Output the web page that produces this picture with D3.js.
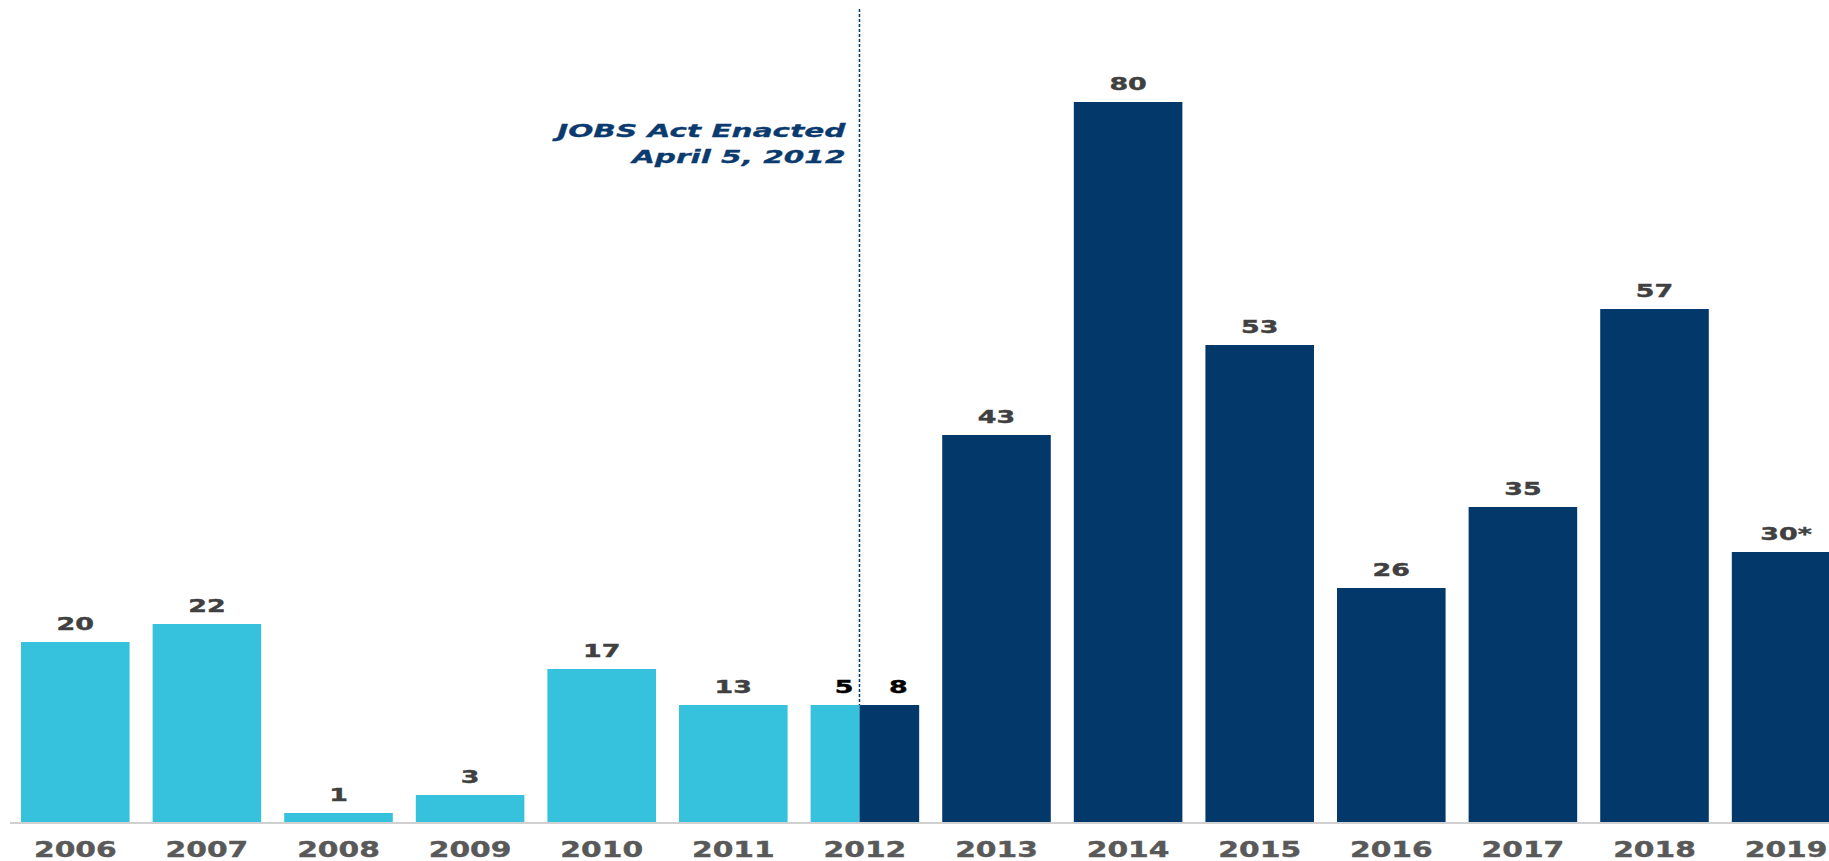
<!DOCTYPE html>
<html><head><meta charset="utf-8">
<script src="https://cdn.jsdelivr.net/npm/d3@7"></script>
<style>html,body{margin:0;padding:0;background:#fff;overflow:hidden}</style>
</head><body>
<svg id="c" width="1829" height="861"></svg>
<script>
const years = ["2006","2007","2008","2009","2010","2011","2012","2013","2014","2015","2016","2017","2018","2019"];
const preJobs = [20,22,1,3,17,13,5,null,null,null,null,null,null,null];
const postJobs = [null,null,null,null,null,null,8,43,80,53,26,35,57,30];
const valueLabels = ["20","22","1","3","17","13","5","8","43","80","53","26","35","57","30*"];
const annotation = ["JOBS Act Enacted","April 5, 2012"];
const splitYear = "2012";

const W = 1829, H = 861;
const svg = d3.select("#c");
const x = d3.scaleBand().domain(years).range([9.5, 9.5 + 14*131.6]).paddingInner(0.175).paddingOuter(0.0875);
const y = d3.scaleLinear().domain([0, 80]).range([822, 102]);
const light = "#36C1DC", dark = "#03386A";
const splitFrac = 0.45;
const SX = 1.45;

const rows = years.map((yr,i)=>({yr, pre: preJobs[i], post: postJobs[i]}));
rows.forEach(r=>{ r.total = (r.pre||0)+(r.post||0); });

// bars
rows.forEach((r,i)=>{
  const bx = x(r.yr), bw = x.bandwidth();
  if (r.pre!=null && r.post!=null) {
    const sx = bx + bw*splitFrac;
    svg.append("rect").attr("x",bx).attr("y",y(r.total)).attr("width",sx-bx).attr("height",y(0)-y(r.total)).attr("fill",light);
    svg.append("rect").attr("x",sx).attr("y",y(r.total)).attr("width",bx+bw-sx).attr("height",y(0)-y(r.total)).attr("fill",dark);
  } else {
    const v = r.pre!=null ? r.pre : r.post;
    svg.append("rect").attr("x",bx).attr("y",y(v)).attr("width",bw).attr("height",y(0)-y(v)).attr("fill", r.pre!=null?light:dark);
  }
});

// axis
const axis = svg.append("g").attr("transform",`translate(0,${y(0)})`).call(d3.axisBottom(x).tickSize(0).tickSizeOuter(0));
axis.select(".domain").attr("stroke","#D0D0D0").attr("stroke-width",2).attr("d",`M10,1H${W}`);
axis.selectAll(".tick text").each(function(d){
  const t = d3.select(this);
  const cx = x(d)+x.bandwidth()/2;
  t.attr("y",null).attr("dy",null).attr("x",null);
  d3.select(this.parentNode).attr("transform",`translate(${cx},0)`);
  t.attr("transform",`translate(0,34.7) scale(${SX},1)`)
   .attr("font-family","DejaVu Sans").attr("font-weight","bold").attr("font-size",20.5)
   .attr("fill","#595959").attr("text-anchor","middle")
   .attr("stroke","#595959").attr("stroke-width",0.4);
});

// value labels
let li = 0;
const lab = (cx, top, txt, col) => {
  svg.append("text").attr("transform",`translate(${cx},${top-12}) scale(1.6,1)`)
    .attr("text-anchor","middle").attr("font-family","DejaVu Sans").attr("font-weight","bold")
    .attr("font-size",16.8).attr("fill",col).attr("stroke",col).attr("stroke-width",0.4).text(txt);
};
rows.forEach(r=>{
  const bx = x(r.yr), bw = x.bandwidth();
  if (r.pre!=null && r.post!=null) {
    const sx = bx + bw*splitFrac;
    lab((bx+sx)/2+9, y(r.total), valueLabels[li++], "#000");
    lab((sx+bx+bw)/2+9, y(r.total), valueLabels[li++], "#000");
  } else {
    const v = r.pre!=null ? r.pre : r.post;
    lab(bx+bw/2, y(v), valueLabels[li++], "#404040");
  }
});

// JOBS act line
const sr = rows.find(r=>r.yr===splitYear);
const lx = x(splitYear) + x.bandwidth()*splitFrac;
svg.append("line").attr("x1",lx).attr("x2",lx).attr("y1",9).attr("y2",y(sr.total))
  .attr("stroke",dark).attr("stroke-width",1.5).attr("stroke-dasharray","3,2");

annotation.forEach((t,i)=>{
  svg.append("text").attr("transform",`translate(${lx-14},${136.7+i*26}) scale(1.68,1)`)
    .attr("text-anchor","end").attr("font-family","DejaVu Sans").attr("font-weight","bold")
    .attr("font-style","italic").attr("font-size",17.6).attr("fill","#0A3A6E")
    .attr("stroke","#0A3A6E").attr("stroke-width",0.3).text(t);
});
</script>
</body></html>
